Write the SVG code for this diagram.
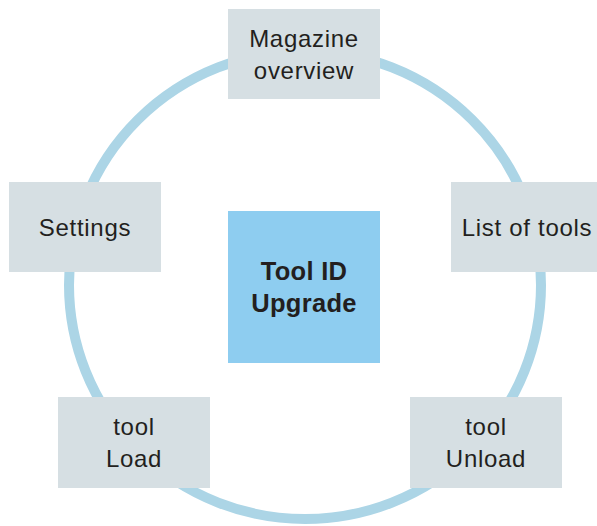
<svg xmlns="http://www.w3.org/2000/svg" width="597" height="526" viewBox="0 0 597 526">
  <style>
    .ring { fill: none; stroke: #acd5e6; stroke-width: 10; }
    .box { fill: #d6dfe3; }
    .hub { fill: #8ecdf0; }
    .lbl { font-family: "Liberation Sans", Arial, sans-serif; font-size: 24px; fill: #231f20; text-anchor: middle; letter-spacing: 0.7px; }
    .bold { font-weight: bold; font-size: 25.5px; letter-spacing: 0.3px; }
  </style>
  <rect width="597" height="526" fill="#ffffff"/>
  <g id="connectors">
    <ellipse class="ring" cx="305" cy="285" rx="236" ry="234"/>
  </g>
  <g id="magazine-overview">
    <rect class="box" x="228" y="9" width="152" height="90"/>
    <text class="lbl" x="304" y="47">Magazine</text>
    <text class="lbl" x="304" y="79">overview</text>
  </g>
  <g id="settings">
    <rect class="box" x="9" y="182" width="152" height="90"/>
    <text class="lbl" x="85" y="236">Settings</text>
  </g>
  <g id="list-of-tools">
    <rect class="box" x="451" y="182" width="152" height="90"/>
    <text class="lbl" x="527" y="236">List of tools</text>
  </g>
  <g id="tool-id-upgrade">
    <rect class="hub" x="228" y="211" width="152" height="152"/>
    <text class="lbl bold" x="304" y="280">Tool ID</text>
    <text class="lbl bold" x="304" y="312">Upgrade</text>
  </g>
  <g id="tool-load">
    <rect class="box" x="58" y="397" width="152" height="91"/>
    <text class="lbl" x="134" y="435">tool</text>
    <text class="lbl" x="134" y="467">Load</text>
  </g>
  <g id="tool-unload">
    <rect class="box" x="410" y="397" width="152" height="91"/>
    <text class="lbl" x="486" y="435">tool</text>
    <text class="lbl" x="486" y="467">Unload</text>
  </g>
</svg>
